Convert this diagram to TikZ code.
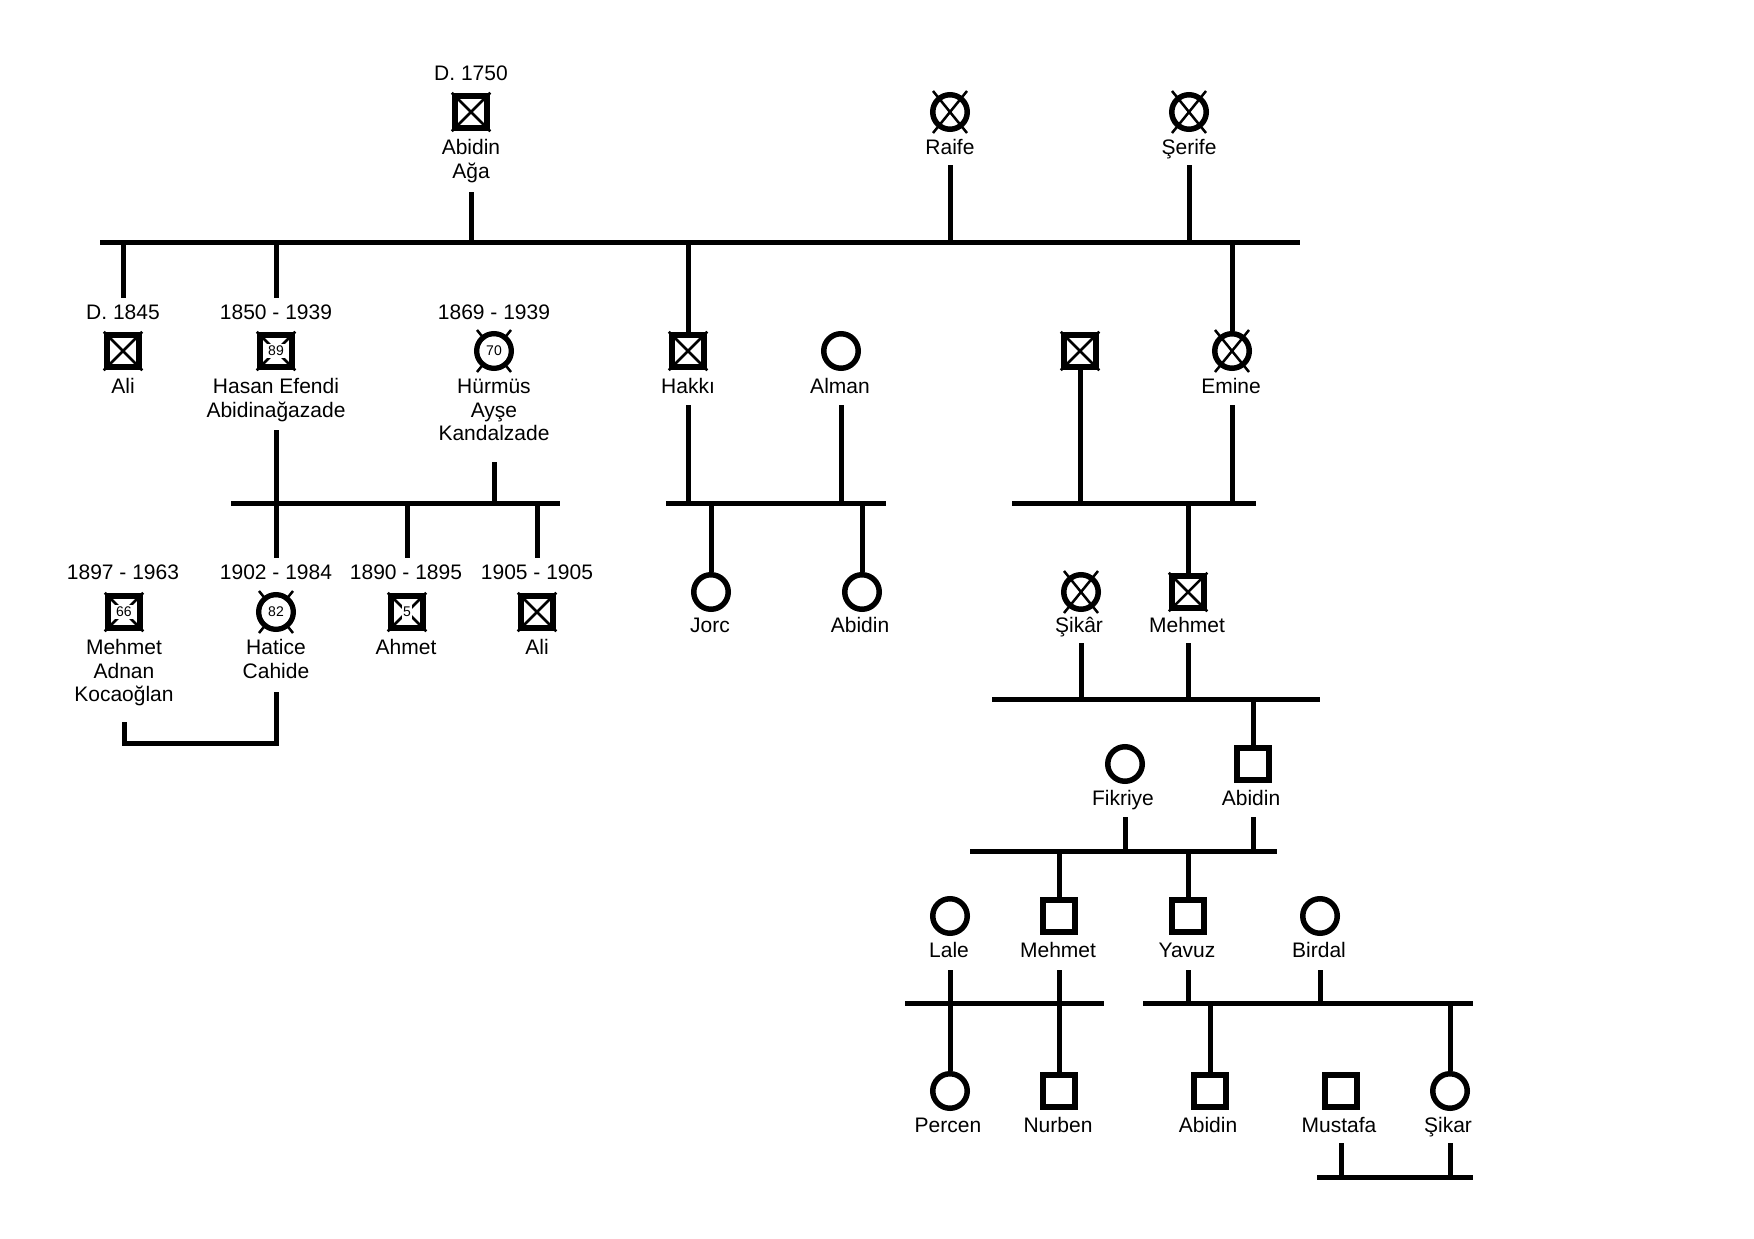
\documentclass[tikz,border=0pt]{standalone}
\usepackage{fontspec}
\setmainfont{Liberation Sans}
\newcommand\nmfont{\fontsize{21}{23.5}\selectfont}
\newcommand\agefont{\fontsize{14}{14}\selectfont}
\newcommand\fst{\rule{0pt}{16pt}}
\newcommand\mkxsq[1]{\draw[xl] (#1.north west) -- (#1.south east) (#1.north east) -- (#1.south west);}
\newcommand\mkxcirc[1]{\draw[xl] ([shift={(-17,-21)}]#1.center) -- ([shift={(17,21)}]#1.center) ([shift={(17,-21)}]#1.center) -- ([shift={(-17,21)}]#1.center);}
\newcommand\mkage[2]{\node[agebox] (#1-age) at (#1) {#2};}
\begin{document}
\begin{tikzpicture}[x=1pt,y=-1pt,
 ln/.style={line width=5pt},
 msq/.style={draw, line width=6pt, rectangle, minimum size=32.5pt, inner sep=0pt},
 fcir/.style={draw, line width=5.5pt, circle, minimum size=34.5pt, inner sep=0pt},
 lbl/.style={font=\nmfont, align=center, anchor=north, inner sep=0pt},
 xl/.style={line width=2.5pt},
 agebox/.style={fill=white, inner xsep=1.5pt, inner ysep=1.5pt, text height=10pt, text depth=1pt, font=\agefont}
]
\fill[white] (0,0) rectangle (1754,1239);
\useasboundingbox (0,0) rectangle (1754,1239);

% ---------- generation 1 ----------
\node[msq] (aaga) at (471,112) {}; \mkxsq{aaga}
\node[lbl] (aaga-d) at (471,64.5) {\fst D. 1750};
\node[lbl] (aaga-n) at (471,138.5) {\fst Abidin\\Ağa};
\node[fcir] (raife) at (950,112) {}; \mkxcirc{raife}
\node[lbl] (raife-n) at (950,138.5) {\fst Raife};
\node[fcir] (serife) at (1189,112) {}; \mkxcirc{serife}
\node[lbl] (serife-n) at (1189,138.5) {\fst Şerife};

\coordinate (b1l) at (100,242);
\coordinate (b1r) at (1300,242);
\draw[ln] (b1l) -- (b1r);
\draw[ln] (aaga |- 0,192) -- (aaga |- b1l);
\draw[ln] (raife |- 0,165) -- (raife |- b1l);
\draw[ln] (serife |- 0,165) -- (serife |- b1l);

% ---------- generation 2 ----------
\node[msq] (ali1) at (123,351) {}; \mkxsq{ali1}
\node[lbl] (ali1-d) at (123,303.5) {\fst D. 1845};
\node[lbl] (ali1-n) at (123,377.5) {\fst Ali};

\node[msq] (hasan) at (276,351) {}; \mkxsq{hasan} \mkage{hasan}{89}
\node[lbl] (hasan-d) at (276,303.5) {\fst 1850 - 1939};
\node[lbl] (hasan-n) at (276,377.5) {\fst Hasan Efendi\\Abidinağazade};

\node[fcir] (hurmus) at (494,351) {}; \mkxcirc{hurmus}
\fill[white] (hurmus.center) circle[radius=14.5];
\mkage{hurmus}{70}
\node[lbl] (hurmus-d) at (494,303.5) {\fst 1869 - 1939};
\node[lbl] (hurmus-n) at (494,377.5) {\fst Hürmüs\\Ayşe\\Kandalzade};

\node[msq] (hakki) at (688,351) {}; \mkxsq{hakki}
\node[lbl] (hakki-n) at (688,377.5) {\fst Hakkı};
\node[fcir] (alman) at (841,351) {};
\node[lbl] (alman-n) at (840,377.5) {\fst Alman};
\node[msq] (unk) at (1080,351) {}; \mkxsq{unk}
\node[fcir] (emine) at (1232,351) {}; \mkxcirc{emine}
\node[lbl] (emine-n) at (1231,377.5) {\fst Emine};

\draw[ln] (ali1 |- b1l) -- (ali1 |- 0,298);
\draw[ln] (hasan |- b1l) -- (hasan |- 0,298);
\draw[ln] (hakki |- b1l) -- (hakki.north);
\draw[ln] (emine |- b1l) -- (emine.north);

% ---------- Hasan + Hurmus family ----------
\coordinate (b2l) at (231,503);
\coordinate (b2r) at (560,503);
\draw[ln] (b2l) -- (b2r);
\draw[ln] (hasan |- 0,430) -- (hasan |- 0,558);
\draw[ln] (hurmus |- 0,462) -- (hurmus |- b2l);

\node[msq] (madnan) at (124,612) {}; \mkxsq{madnan} \mkage{madnan}{66}
\node[lbl] (madnan-d) at (123,563.5) {\fst 1897 - 1963};
\node[lbl] (madnan-n) at (124,638.5) {\fst Mehmet\\Adnan\\Kocaoğlan};

\node[fcir] (hatice) at (276,612) {}; \mkxcirc{hatice}
\fill[white] (hatice.center) circle[radius=14.5];
\mkage{hatice}{82}
\node[lbl] (hatice-d) at (276,563.5) {\fst 1902 - 1984};
\node[lbl] (hatice-n) at (276,638.5) {\fst Hatice\\Cahide};

\node[msq] (ahmet) at (407,612) {}; \mkxsq{ahmet} \mkage{ahmet}{5}
\node[lbl] (ahmet-d) at (406,563.5) {\fst 1890 - 1895};
\node[lbl] (ahmet-n) at (406,638.5) {\fst Ahmet};

\node[msq] (ali2) at (537,612) {}; \mkxsq{ali2}
\node[lbl] (ali2-d) at (537,563.5) {\fst 1905 - 1905};
\node[lbl] (ali2-n) at (537,638.5) {\fst Ali};

\draw[ln] (ahmet |- b2l) -- (ahmet |- 0,558);
\draw[ln] (ali2 |- b2l) -- (ali2 |- 0,558);

\draw[ln, line join=miter] (hatice |- 0,692) -- (hatice |- 0,743) -- (madnan |- 0,743) -- (madnan |- 0,722);

% ---------- Hakki + Alman family ----------
\coordinate (b3l) at (666,503);
\coordinate (b3r) at (886,503);
\draw[ln] (b3l) -- (b3r);
\draw[ln] (hakki |- 0,405) -- (hakki |- b3l);
\draw[ln] (alman |- 0,405) -- (alman |- b3l);
\node[fcir] (jorc) at (711,592) {};
\node[lbl] (jorc-n) at (710,616.5) {\fst Jorc};
\node[fcir] (abidin2) at (862,592) {};
\node[lbl] (abidin2-n) at (860,616.5) {\fst Abidin};
\draw[ln] (jorc |- b3l) -- (jorc.north);
\draw[ln] (abidin2 |- b3l) -- (abidin2.north);

% ---------- unknown + Emine family ----------
\coordinate (b4l) at (1012,503);
\coordinate (b4r) at (1256,503);
\draw[ln] (b4l) -- (b4r);
\draw[ln] (unk.south) -- (unk |- b4l);
\draw[ln] (emine |- 0,405) -- (emine |- b4l);

\node[fcir] (sikar1) at (1081,592) {}; \mkxcirc{sikar1}
\node[lbl] (sikar1-n) at (1079,616.5) {\fst Şikâr};
\node[msq] (mehmet1) at (1188,592) {}; \mkxsq{mehmet1}
\node[lbl] (mehmet1-n) at (1187,616.5) {\fst Mehmet};
\draw[ln] (mehmet1 |- b4l) -- (mehmet1.north);

% ---------- Sikar + Mehmet family ----------
\coordinate (b5l) at (992,699);
\coordinate (b5r) at (1320,699);
\draw[ln] (b5l) -- (b5r);
\draw[ln] (sikar1 |- 0,643) -- (sikar1 |- b5l);
\draw[ln] (mehmet1 |- 0,643) -- (mehmet1 |- b5l);

\node[fcir] (fikriye) at (1125,764) {};
\node[lbl] (fikriye-n) at (1123,789.5) {\fst Fikriye};
\node[msq] (abidin3) at (1253,764) {};
\node[lbl] (abidin3-n) at (1251,789.5) {\fst Abidin};
\draw[ln] (abidin3 |- b5l) -- (abidin3.north);

% ---------- Fikriye + Abidin family ----------
\coordinate (b6l) at (970,851);
\coordinate (b6r) at (1277,851);
\draw[ln] (b6l) -- (b6r);
\draw[ln] (fikriye |- 0,817) -- (fikriye |- b6l);
\draw[ln] (abidin3 |- 0,817) -- (abidin3 |- b6l);

\node[fcir] (lale) at (950,916) {};
\node[lbl] (lale-n) at (949,941.5) {\fst Lale};
\node[msq] (mehmet2) at (1059,916) {};
\node[lbl] (mehmet2-n) at (1058,941.5) {\fst Mehmet};
\node[msq] (yavuz) at (1188,916) {};
\node[lbl] (yavuz-n) at (1187,941.5) {\fst Yavuz};
\node[fcir] (birdal) at (1320,916) {};
\node[lbl] (birdal-n) at (1319,941.5) {\fst Birdal};
\draw[ln] (mehmet2 |- b6l) -- (mehmet2.north);
\draw[ln] (yavuz |- b6l) -- (yavuz.north);

% ---------- Lale + Mehmet family ----------
\coordinate (b7l) at (905,1003);
\coordinate (b7r) at (1104,1003);
\draw[ln] (b7l) -- (b7r);
\node[fcir] (percen) at (950,1091) {};
\node[lbl] (percen-n) at (948,1116.5) {\fst Percen};
\node[msq] (nurben) at (1059,1091) {};
\node[lbl] (nurben-n) at (1058,1116.5) {\fst Nurben};
\draw[ln] (lale |- 0,970) -- (percen.north);
\draw[ln] (mehmet2 |- 0,970) -- (nurben.north);

% ---------- Yavuz + Birdal family ----------
\coordinate (b8l) at (1143,1003);
\coordinate (b8r) at (1473,1003);
\draw[ln] (b8l) -- (b8r);
\draw[ln] (yavuz |- 0,970) -- (yavuz |- b8l);
\draw[ln] (birdal |- 0,970) -- (birdal |- b8l);
\node[msq] (abidin4) at (1210,1091) {};
\node[lbl] (abidin4-n) at (1208,1116.5) {\fst Abidin};
\node[msq] (mustafa) at (1341,1091) {};
\node[lbl] (mustafa-n) at (1339,1116.5) {\fst Mustafa};
\node[fcir] (sikar2) at (1450,1091) {};
\node[lbl] (sikar2-n) at (1448,1116.5) {\fst Şikar};
\draw[ln] (abidin4 |- b8l) -- (abidin4.north);
\draw[ln] (sikar2 |- b8l) -- (sikar2.north);

% ---------- Mustafa + Sikar ----------
\coordinate (b9l) at (1317,1177);
\coordinate (b9r) at (1473,1177);
\draw[ln] (b9l) -- (b9r);
\draw[ln] (mustafa |- 0,1143) -- (mustafa |- b9l);
\draw[ln] (sikar2 |- 0,1143) -- (sikar2 |- b9l);
\end{tikzpicture}
\end{document}
